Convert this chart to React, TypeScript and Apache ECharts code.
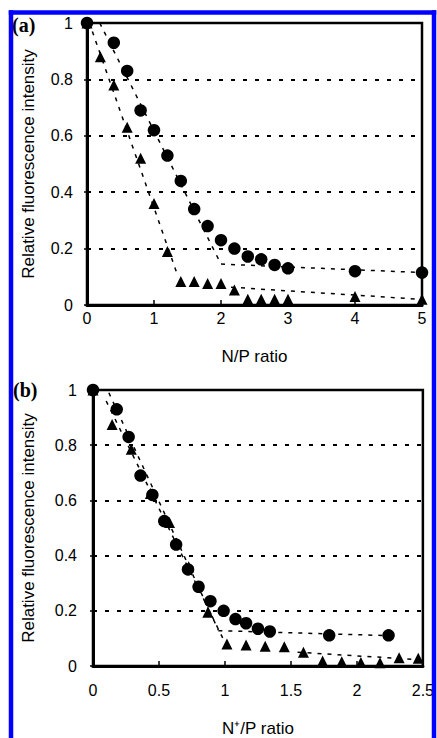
import React, { useEffect, useRef } from "react";
import * as echarts from "echarts";

// Panel (a): N/P ratio
const aCircleX = [0, 0.4, 0.6, 0.8, 1.0, 1.2, 1.4, 1.6, 1.8, 2.0, 2.2, 2.4, 2.6, 2.8, 3.0, 4, 5];
const aCircleY = [1, 0.93, 0.83, 0.69, 0.62, 0.53, 0.44, 0.34, 0.28, 0.23, 0.2, 0.172, 0.162, 0.142, 0.13, 0.12, 0.115];
const aTriX = [0, 0.2, 0.4, 0.6, 0.8, 1.0, 1.2, 1.4, 1.6, 1.8, 2.0, 2.2, 2.4, 2.6, 2.8, 3.0, 4, 5];
const aTriY = [1, 0.88, 0.78, 0.63, 0.52, 0.36, 0.19, 0.083, 0.083, 0.076, 0.076, 0.053, 0.02, 0.02, 0.02, 0.02, 0.03, 0.02];
const aCircleFit1 = [[0.19, 1.0], [2.0, 0.145]];
const aCircleFit2 = [[2.0, 0.145], [5, 0.115]];
const aTriFit1 = [[0.08, 0.97], [1.36, 0.1]];
const aTriFit2 = [[2.15, 0.063], [5, 0.02]];

// Panel (b): N+/P ratio
const bCircleX = [0, 0.18, 0.27, 0.36, 0.45, 0.54, 0.63, 0.72, 0.8, 0.89, 0.99, 1.08, 1.16, 1.25, 1.34, 1.79, 2.24];
const bCircleY = [1, 0.93, 0.83, 0.69, 0.62, 0.525, 0.44, 0.35, 0.287, 0.235, 0.2, 0.17, 0.155, 0.135, 0.125, 0.111, 0.111];
const bTriX = [0, 0.145, 0.29, 0.435, 0.58, 0.725, 0.87, 1.015, 1.16, 1.305, 1.45, 1.595, 1.74, 1.885, 2.03, 2.175, 2.32, 2.465];
const bTriY = [1, 0.875, 0.785, 0.625, 0.52, 0.36, 0.195, 0.08, 0.076, 0.072, 0.07, 0.05, 0.018, 0.015, 0.013, 0.012, 0.03, 0.028];
const bCircleFit1 = [[0.12, 0.99], [0.95, 0.13]];
const bCircleFit2 = [[0.95, 0.128], [2.24, 0.11]];
const bTriFit1 = [[0.1, 0.96], [1.0, 0.085]];
const bTriFit2 = [[1.55, 0.05], [2.5, 0.022]];

const yTitle = "Relative fluorescence intensity";
const aXTitle = "N/P ratio";
const bXTitle = "N\u207A/P ratio";
const panelLabels = ["(a)", "(b)"];

const FONT = "'Liberation Sans', Arial, sans-serif";

function zip(xs: number[], ys: number[]) {
  return xs.map((x, i) => [x, ys[i]]);
}

export default function App() {
  const ref = useRef<HTMLDivElement>(null);
  useEffect(() => {
    if (!ref.current) return;
    const chart = echarts.init(ref.current, null, { renderer: "svg" });

    const xAxisBase = (grid: number, max: number, interval: number, name: string, gap: number, margin: number) => ({
      gridIndex: grid,
      type: "value",
      min: 0,
      max,
      interval,
      axisLine: { show: true, lineStyle: { color: "#000", width: 3 } },
      axisTick: { show: true, inside: true, length: 5, lineStyle: { color: "#000", width: 1.5 } },
      axisLabel: { margin, fontSize: 16, color: "#000", fontFamily: FONT },
      splitLine: { show: false },
      name,
      nameLocation: "middle",
      nameGap: gap,
      nameTextStyle: { fontSize: 17, color: "#000", fontFamily: FONT },
    });
    const yAxisBase = (grid: number, gap: number, margin: number) => ({
      gridIndex: grid,
      type: "value",
      min: 0,
      max: 1,
      interval: 0.2,
      axisLine: { show: true, lineStyle: { color: "#000", width: 3 } },
      axisTick: { show: true, length: 3, lineStyle: { color: "#000", width: 1.5 } },
      axisLabel: { margin, fontSize: 16, color: "#000", fontFamily: FONT },
      splitLine: { show: true, lineStyle: { color: "#000", width: 2, type: [4, 8] } },
      name: yTitle,
      nameLocation: "middle",
      nameGap: gap,
      nameRotate: 90,
      nameTextStyle: { fontSize: 17, color: "#000", fontFamily: FONT },
    });

    const fit = (idx: number, data: number[][]) => ({
      type: "line",
      xAxisIndex: idx,
      yAxisIndex: idx,
      data,
      symbol: "none",
      silent: true,
      z: 1,
      lineStyle: { color: "#000", width: 1.5, type: [4, 6] },
    });
    const scatter = (idx: number, data: number[][], symbol: string, size: number) => ({
      type: "scatter",
      xAxisIndex: idx,
      yAxisIndex: idx,
      data,
      symbol,
      symbolSize: size,
      z: 3,
      itemStyle: { color: "#000", opacity: 1 },
    });

    const blue = { stroke: "#0000ff", lineWidth: 4.5 };

    chart.setOption({
      animation: false,
      backgroundColor: "#fff",
      grid: [
        { left: 87, top: 23, width: 335, height: 282, show: true, borderColor: "#000", borderWidth: 2.5 },
        { left: 93, top: 390, width: 334, height: 287, show: true, borderColor: "#000", borderWidth: 2.5 },
      ],
      xAxis: [xAxisBase(0, 5, 1, aXTitle, 43, 5), xAxisBase(1, 2.5, 0.5, bXTitle, 54, 16)],
      yAxis: [yAxisBase(0, 50, 14), yAxisBase(1, 56, 16)],
      series: [
        fit(0, aCircleFit1),
        fit(0, aCircleFit2),
        fit(0, aTriFit1),
        fit(0, aTriFit2),
        scatter(0, zip(aTriX, aTriY), "triangle", 11),
        scatter(0, zip(aCircleX, aCircleY), "circle", 12.5),
        fit(1, bCircleFit1),
        fit(1, bCircleFit2),
        fit(1, bTriFit1),
        fit(1, bTriFit2),
        scatter(1, zip(bTriX, bTriY), "triangle", 11),
        scatter(1, zip(bCircleX, bCircleY), "circle", 12.5),
      ],
      graphic: [
        {
          type: "text",
          left: 12,
          top: 15,
          z: 10,
          style: { text: panelLabels[0], fontSize: 20, fontWeight: "bold", fontFamily: "'Liberation Serif', 'Times New Roman', serif", fill: "#000" },
        },
        {
          type: "text",
          left: 13,
          top: 380,
          z: 10,
          style: { text: panelLabels[1], fontSize: 20, fontWeight: "bold", fontFamily: "'Liberation Serif', 'Times New Roman', serif", fill: "#000" },
        },
        { type: "line", z: 20, silent: true, shape: { x1: 8.75, y1: 12.5, x2: 436.25, y2: 12.5 }, style: blue },
        { type: "line", z: 20, silent: true, shape: { x1: 11, y1: 10.25, x2: 11, y2: 738 }, style: blue },
        { type: "line", z: 20, silent: true, shape: { x1: 434, y1: 10.25, x2: 434, y2: 738 }, style: blue },
      ],
    });
    return () => chart.dispose();
  }, []);
  return (
    <div
      ref={ref}
      style={{ position: "fixed", left: 0, top: 0, width: 437, height: 738, background: "#fff" }}
    />
  );
}
